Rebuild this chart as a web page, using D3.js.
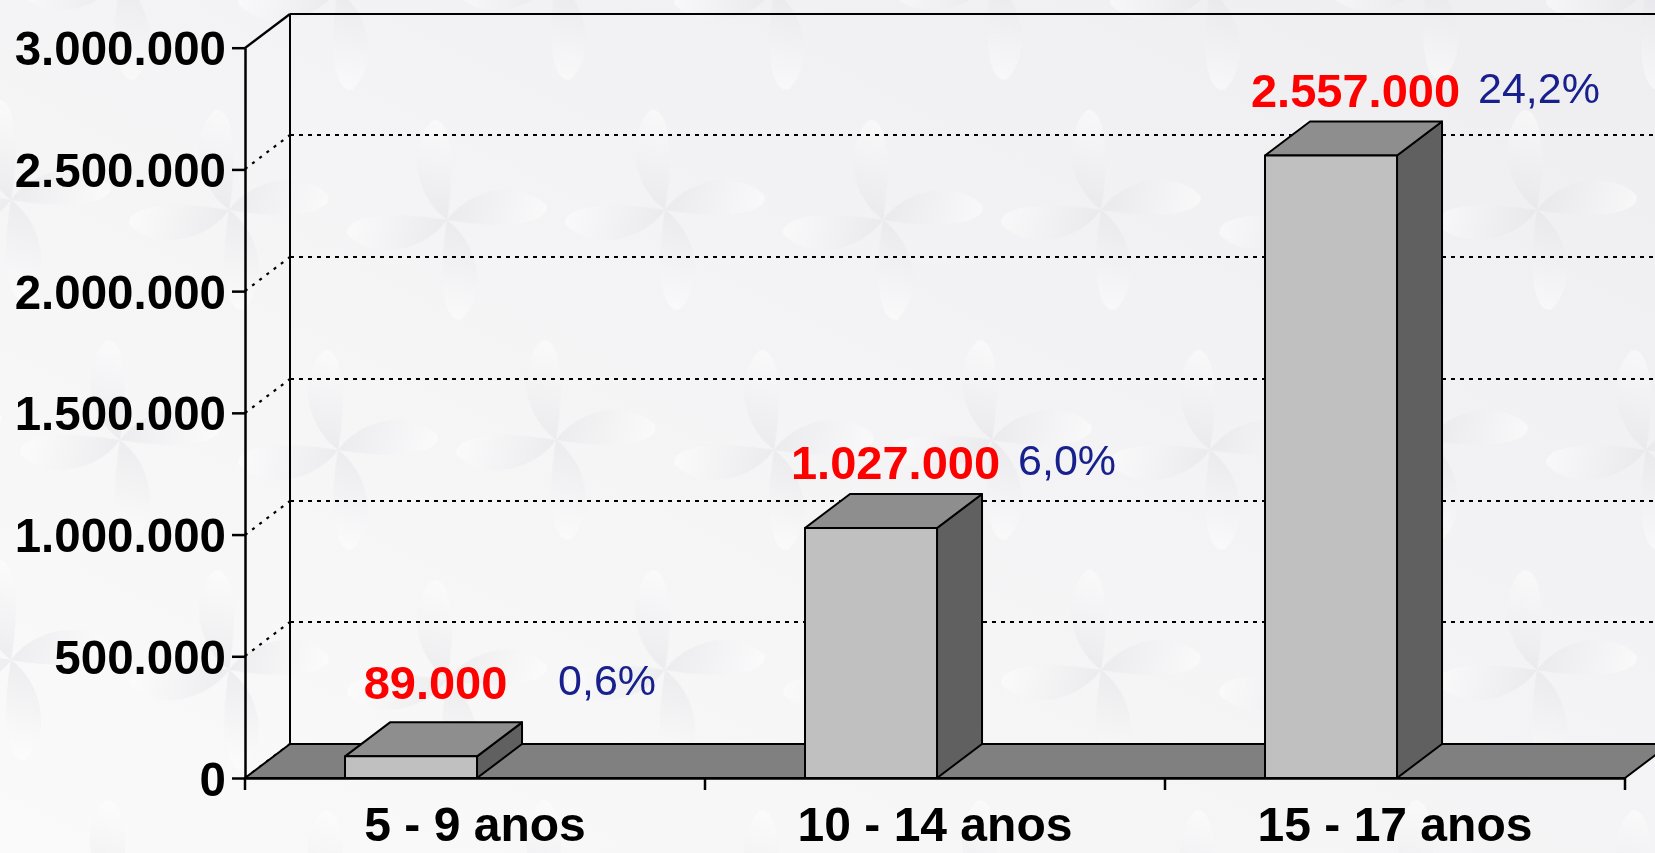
<!DOCTYPE html>
<html>
<head>
<meta charset="utf-8">
<script src="https://cdn.jsdelivr.net/npm/d3@7"></script>
<style>
  html, body { margin: 0; padding: 0; background: #f5f5f7; overflow: hidden; }
  svg { display: block; }
</style>
</head>
<body>
<svg id="chart" width="1655" height="853"></svg>
<script>
// ---- data ----
const categories = ["5 - 9 anos", "10 - 14 anos", "15 - 17 anos"];
const values = [89000, 1027000, 2557000];
const percents = [0.6, 6.0, 24.2];
const yTicks = [0, 500000, 1000000, 1500000, 2000000, 2500000, 3000000];
const yMax = 3000000;

// ---- setup ----
const W = 1655, H = 853;
const svg = d3.select("#chart");
const FONT = "'Liberation Sans', Arial, Helvetica, sans-serif";
const locale = d3.formatLocale({ decimal: ",", thousands: ".", grouping: [3], currency: ["R$", ""] });
const fmtInt = locale.format(",d");
const fmtPct = v => locale.format(".1f")(v) + "%";

const pLeft = 245, pRight = 1625, pBottom = 778, pTop = 47.7;
const DX = 45, DY = 34; // 3D depth offset

const y = d3.scaleLinear().domain([0, yMax]).range([pBottom, pTop]);
const x = d3.scaleBand().domain(categories).range([pLeft, pRight]).paddingInner(0).paddingOuter(0);
const bw = x.bandwidth();
const barOff = bw * 0.2174, barW = bw * 0.287;

// ---- background ----
const defs = svg.append("defs");
const bg = defs.append("linearGradient").attr("id", "bg").attr("x1", "0").attr("y1", "1").attr("x2", "1").attr("y2", "0");
bg.append("stop").attr("offset", "0").attr("stop-color", "#fafafa");
bg.append("stop").attr("offset", "1").attr("stop-color", "#eeeef1");
const pg = defs.append("linearGradient").attr("id", "petal").attr("x1", "0").attr("y1", "0").attr("x2", "1").attr("y2", "0");
pg.append("stop").attr("offset", "0").attr("stop-color", "#e2e2e6");
pg.append("stop").attr("offset", "1").attr("stop-color", "#ffffff");
svg.append("rect").attr("width", W).attr("height", H).attr("fill", "url(#bg)");

// faint pinwheel decoration
const decor = [];
for (let r = 0; r < 5; r++) {
  for (let c = -1; c < 9; c++) {
    decor.push({ cx: 120 + c * 218 + (r % 2) * 109, cy: -20 + r * 230 + (c % 2) * 10 });
  }
}
const petalPath = "M0,0 C 15,-38 62,-58 92,-40 C 100,-30 80,-8 0,0 Z";
const dg = svg.append("g").attr("opacity", 0.5);
decor.forEach(d => {
  const g = dg.append("g").attr("transform", `translate(${d.cx},${d.cy}) rotate(15)`);
  [0, 90, 180, 270].forEach(a => {
    g.append("path").attr("d", petalPath).attr("transform", `rotate(${a})`)
      .attr("fill", "url(#petal)");
  });
});

// ---- walls & gridlines ----
const backLeft = pLeft + DX;
const gridG = svg.append("g");
yTicks.forEach(t => {
  const yy = Math.round(y(t));
  const isTop = t === yMax;
  gridG.append("line")
    .attr("x1", backLeft).attr("x2", W + 10)
    .attr("y1", yy - DY).attr("y2", yy - DY)
    .attr("stroke", "#000").attr("stroke-width", 2)
    .attr("stroke-dasharray", isTop ? null : "4,5");
  gridG.append("line")
    .attr("x1", pLeft).attr("y1", yy)
    .attr("x2", backLeft).attr("y2", yy - DY)
    .attr("stroke", "#000").attr("stroke-width", 2.2)
    .attr("stroke-dasharray", isTop ? null : "3,6");
});
gridG.append("line")
  .attr("x1", backLeft).attr("x2", backLeft)
  .attr("y1", Math.round(y(yMax)) - DY).attr("y2", y(0) - DY)
  .attr("stroke", "#000").attr("stroke-width", 2);

// ---- floor ----
svg.append("path")
  .attr("d", `M${pLeft},${y(0)} L${pRight},${y(0)} L${pRight + DX},${y(0) - DY} L${backLeft},${y(0) - DY} Z`)
  .attr("fill", "#808080").attr("stroke", "#000").attr("stroke-width", 2).attr("stroke-linejoin", "miter");
svg.append("line")
  .attr("x1", backLeft).attr("x2", W + 10)
  .attr("y1", y(0) - DY).attr("y2", y(0) - DY)
  .attr("stroke", "#000").attr("stroke-width", 2);

// ---- bars ----
const barsG = svg.append("g");
categories.forEach((c, i) => {
  const x0 = x(c) + barOff, x1 = x0 + barW;
  const yt = y(values[i]), yb = y(0);
  const g = barsG.append("g").attr("stroke", "#000").attr("stroke-width", 2).attr("stroke-linejoin", "round");
  g.append("path").attr("d", `M${x1},${yb} L${x1 + DX},${yb - DY} L${x1 + DX},${yt - DY} L${x1},${yt} Z`).attr("fill", "#606060");
  g.append("path").attr("d", `M${x0},${yt} L${x0 + DX},${yt - DY} L${x1 + DX},${yt - DY} L${x1},${yt} Z`).attr("fill", "#8e8e8e");
  g.append("rect").attr("x", x0).attr("y", yt).attr("width", barW).attr("height", yb - yt).attr("fill", "#c0c0c0");
});

// ---- axes ----
const yAxis = d3.axisLeft(y).tickValues(yTicks).tickSize(13).tickSizeOuter(0).tickFormat(fmtInt);
const yAxG = svg.append("g").attr("transform", `translate(${pLeft},0)`).call(yAxis);
yAxG.select(".domain").attr("stroke", "#000").attr("stroke-width", 2.5);
yAxG.selectAll(".tick line").attr("stroke", "#000").attr("stroke-width", 2.5);
yAxG.selectAll(".tick text")
  .attr("x", -19).attr("dy", "0.36em")
  .attr("font-family", FONT).attr("font-weight", "bold").attr("font-size", 47.5).attr("fill", "#000");

const xAxis = d3.axisBottom(x).tickSize(0).tickSizeOuter(0);
const xAxG = svg.append("g").attr("transform", `translate(0,${pBottom})`).call(xAxis);
xAxG.select(".domain").attr("stroke", "#000").attr("stroke-width", 2.5);
xAxG.selectAll(".tick text")
  .attr("y", 63).attr("dy", 0)
  .attr("font-family", FONT).attr("font-weight", "bold").attr("font-size", 48).attr("fill", "#000");
const bounds = categories.map(c => x(c)).concat([pRight]);
xAxG.selectAll(".sep").data(bounds).enter().append("line")
  .attr("class", "sep")
  .attr("x1", d => d).attr("x2", d => d).attr("y1", 0).attr("y2", 12)
  .attr("stroke", "#000").attr("stroke-width", 2.5);

// ---- value labels ----
const labG = svg.append("g").attr("font-family", FONT);
categories.forEach((c, i) => {
  const backTop = y(values[i]) - DY;
  const base = Math.min(backTop - 15, y(0) - DY - 45);
  labG.append("text")
    .attr("x", x(c) + barOff + barW / 2 + DX / 2 + 2)
    .attr("y", base)
    .attr("text-anchor", "middle")
    .attr("font-weight", "bold").attr("font-size", 47).attr("fill", "#ff0000")
    .text(fmtInt(values[i]));
  labG.append("text")
    .attr("x", x(c) + barOff + barW + DX + 36)
    .attr("y", base - 4)
    .attr("text-anchor", "start")
    .attr("font-size", 43).attr("fill", "#18208e")
    .text(fmtPct(percents[i]));
});
</script>
</body>
</html>
